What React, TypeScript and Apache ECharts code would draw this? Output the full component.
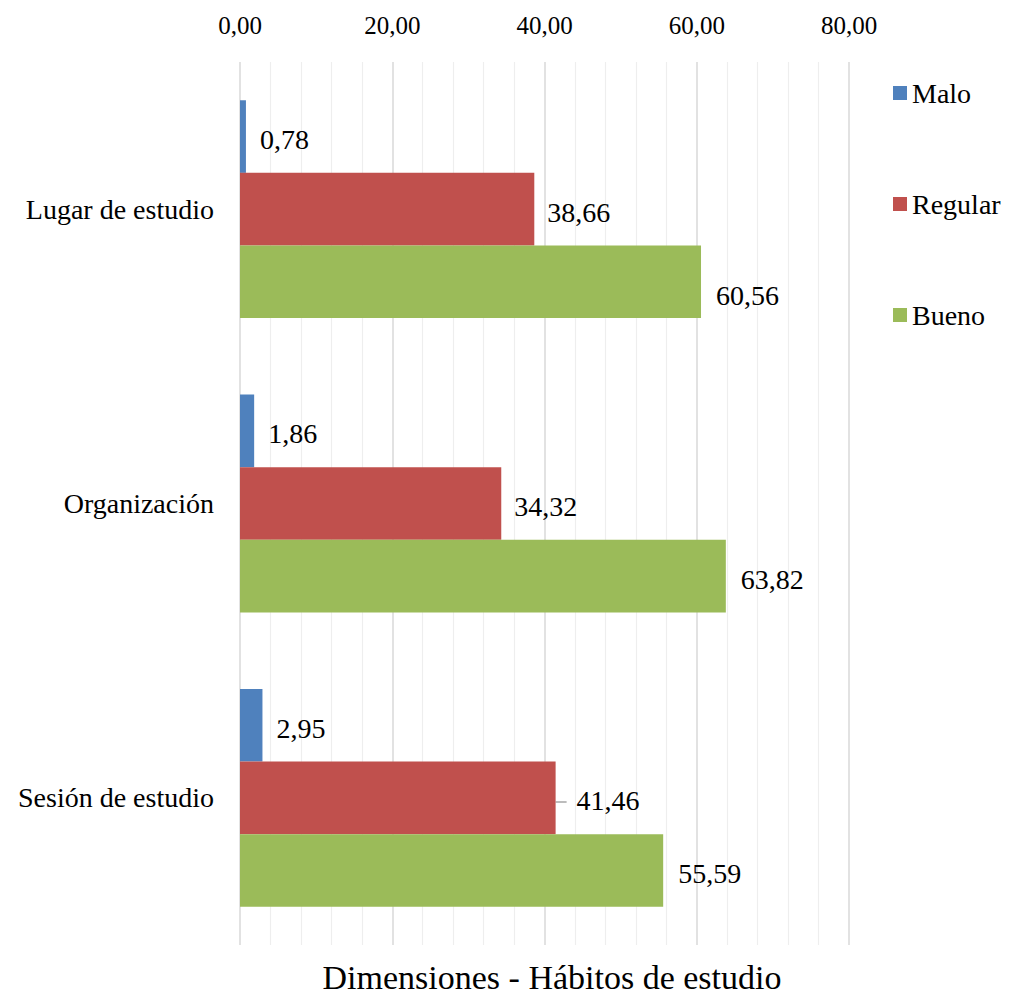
import React, { useEffect, useRef } from "react";
import * as echarts from "echarts";

const categories = ["Lugar de estudio", "Organización", "Sesión de estudio"];
const malo = [0.78, 1.86, 2.95];
const regular = [38.66, 34.32, 41.46];
const bueno = [60.56, 63.82, 55.59];
const seriesNames = ["Malo", "Regular", "Bueno"];
const axisTitle = "Dimensiones - Hábitos de estudio";

const FONT = "Liberation Serif";
const fmt = (v: number) => v.toFixed(2).replace(".", ",");

export default function App() {
  const ref = useRef<HTMLDivElement>(null);
  useEffect(() => {
    if (!ref.current) return;
    const chart = echarts.init(ref.current, null, { renderer: "svg" });
    const labelBase = {
      show: true,
      position: "right",
      distance: 13,
      fontFamily: FONT,
      fontSize: 28,
      color: "#000",
      offset: [0, 3],
      formatter: (p: any) => fmt(p.value),
    };
    chart.setOption({
      animation: false,
      grid: { left: 240, right: 163, top: 62, bottom: 51, containLabel: false },
      legend: {
        data: seriesNames,
        orient: "vertical",
        left: 893,
        top: 79,
        itemWidth: 14,
        itemHeight: 14,
        itemGap: 83,
        padding: 0,
        icon: "rect",
        textStyle: { fontFamily: FONT, fontSize: 28, color: "#000", lineHeight: 28 },
      },
      xAxis: {
        type: "value",
        position: "top",
        min: 0,
        max: 80,
        interval: 20,
        axisLine: { show: false },
        axisTick: { show: false },
        axisLabel: {
          fontFamily: FONT,
          fontSize: 25,
          color: "#000",
          margin: 24,
          formatter: (v: number) => fmt(v),
        },
        splitLine: { show: true, lineStyle: { color: "#d9d9d9", width: 1.5 } },
        minorTick: { show: false, splitNumber: 5 },
        minorSplitLine: { show: true, lineStyle: { color: "#eeeeee", width: 1.2 } },
      },
      yAxis: {
        type: "category",
        data: categories,
        inverse: true,
        axisLine: { show: false },
        axisTick: { show: false },
        axisLabel: { fontFamily: FONT, fontSize: 28, color: "#000", margin: 26 },
      },
      series: [
        {
          name: "Malo",
          type: "bar",
          data: malo,
          barGap: "0%",
          barCategoryGap: "26%",
          itemStyle: { color: "#4f81bd" },
          label: { ...labelBase, distance: 14 },
        },
        {
          name: "Regular",
          type: "bar",
          data: regular.map((v, i) =>
            i === 2 ? { value: v, label: { distance: 21 } } : v
          ),
          barGap: "0%",
          barCategoryGap: "26%",
          itemStyle: { color: "#c0504d" },
          label: labelBase,
        },
        {
          name: "Bueno",
          type: "bar",
          data: bueno.map((v, i) =>
            i === 0 ? { value: v, label: { offset: [0, 14] } } : v
          ),
          barGap: "0%",
          barCategoryGap: "26%",
          itemStyle: { color: "#9bbb59" },
          label: { ...labelBase, distance: 15 },
        },
      ],
      graphic: [
        {
          type: "line",
          shape: {
            x1: 240 + regular[2] * (609 / 80),
            y1: 802,
            x2: 240 + regular[2] * (609 / 80) + 11,
            y2: 802,
          },
          style: { stroke: "#a6a6a6", lineWidth: 1.5 },
        },
        {
          type: "text",
          x: 552,
          y: 977,
          style: {
            text: axisTitle,
            fontFamily: FONT,
            fontSize: 34,
            fill: "#000",
            textAlign: "center",
            textVerticalAlign: "middle",
          },
        },
      ],
    });
    return () => chart.dispose();
  }, []);
  return (
    <div
      ref={ref}
      style={{ position: "fixed", left: 0, top: 0, width: 1012, height: 996, background: "#fff" }}
    />
  );
}
